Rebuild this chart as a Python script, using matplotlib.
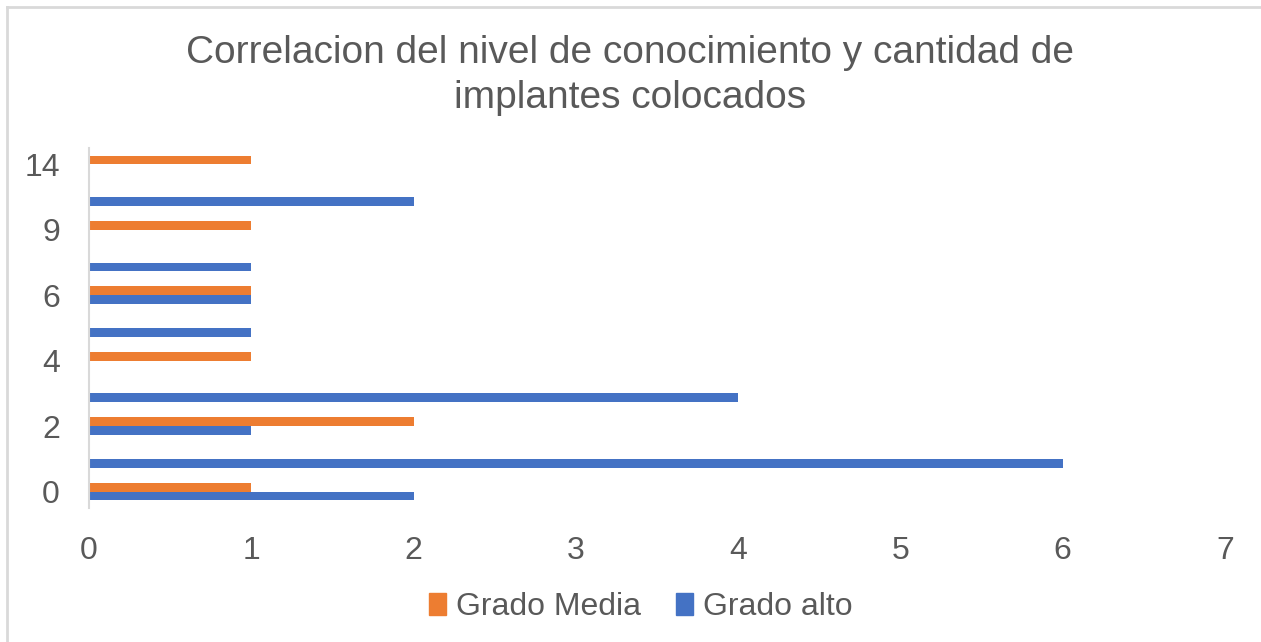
import numpy as np
import matplotlib
matplotlib.use('Agg')
import matplotlib.pyplot as plt
from matplotlib.patches import Patch
from matplotlib.lines import Line2D

plt.rcParams['font.family'] = ['Liberation Sans', 'DejaVu Sans']

# datos
categorias = ['0', '1', '2', '3', '4', '5', '6', '7', '9', '10', '14']
grado_media = [1, 0, 2, 0, 1, 0, 1, 0, 1, 0, 1]
grado_alto = [2, 6, 1, 4, 0, 1, 1, 1, 0, 2, 0]

c_media = '#ED7D31'
c_alto = '#4472C4'
c_texto = '#595959'
c_eje = '#D9D9D9'

fig = plt.figure(figsize=(12.61, 6.42), dpi=100)
ax = fig.add_axes([0.0706, 0.2087, 0.9008, 0.5608])

y = np.arange(len(categorias))
h = 0.27
ax.barh(y - h / 2, grado_alto, height=h, color=c_alto)
ax.barh(y + h / 2, grado_media, height=h, color=c_media)

ax.set_xlim(0, 7)
ax.set_ylim(-0.5, len(categorias) - 0.5)
ax.set_xticks(range(8))
ax.set_yticks(y[::2])
ax.set_yticklabels(categorias[::2])
ax.tick_params(axis='both', length=0, labelsize=23, labelcolor=c_texto)
ax.tick_params(axis='y', pad=21)
ax.tick_params(axis='x', pad=20)

for s in ['top', 'right', 'bottom']:
    ax.spines[s].set_visible(False)
ax.spines['left'].set_color(c_eje)
ax.spines['left'].set_linewidth(1.5)

fig.text(0.5, 1 - 53 / 642, 'Correlacion del nivel de conocimiento y cantidad de',
         ha='center', va='center', fontsize=28, color=c_texto)
fig.text(0.5, 1 - 98 / 642, 'implantes colocados',
         ha='center', va='center', fontsize=28, color=c_texto)

handles = [Patch(color=c_media, label='Grado Media'),
           Patch(color=c_alto, label='Grado alto')]
fig.legend(handles=handles, loc='center', bbox_to_anchor=(0.508, 1 - 607 / 642),
           ncol=2, frameon=False, fontsize=23, labelcolor=c_texto,
           handlelength=0.55, handleheight=0.7, handletextpad=0.3,
           columnspacing=1.1)

# borde del area del grafico
fig.add_artist(Line2D([7 / 1261, 7 / 1261], [0, 1 - 7 / 642], transform=fig.transFigure,
                      color=c_eje, lw=2))
fig.add_artist(Line2D([7 / 1261, 1], [1 - 7 / 642, 1 - 7 / 642], transform=fig.transFigure,
                      color=c_eje, lw=2))

fig.savefig('out.png', dpi=100)
